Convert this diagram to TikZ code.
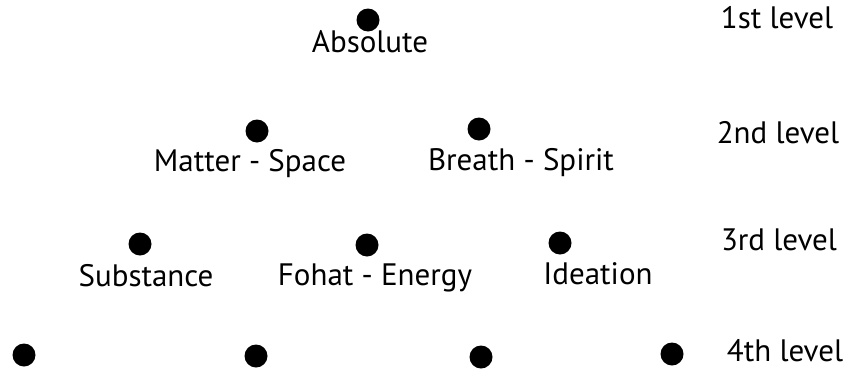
\documentclass[tikz,border=0pt]{standalone}
\usepackage{fontspec}
\setmainfont{PT Sans}
\tikzset{
  dot/.style={circle,fill=black,inner sep=0pt,minimum size=23pt},
  lbl/.style={anchor=base,inner sep=0pt,font=\fontsize{31}{34}\selectfont}
}
\begin{document}
\begin{tikzpicture}[x=1pt,y=-1pt]
      \useasboundingbox (0,0) rectangle (846,370);
      % dots
      \draw
        (368,20) node[dot] (a){}
        (257,131) node[dot] (m){}
        (479,129) node[dot] (b){}
        (140,244) node[dot] (s){}
        (367,245) node[dot] (f){}
        (560,243) node[dot] (i){}
        (24,355) node[dot] (d1){}
        (256,356) node[dot] (d2){}
        (481,357) node[dot] (d3){}
        (672,354) node[dot] (d4){};
      % names
      \draw
        (370,52) node[lbl] (absolute){Absolute}
        (250,171) node[lbl] (matter){Matter - Space}
        (521,170) node[lbl] (breath){Breath - Spirit}
        (146,286) node[lbl] (substance){Substance}
        (375,285) node[lbl] (fohat){Fohat - Energy}
        (598,284) node[lbl] (ideation){Ideation};
      % levels
      \draw
        (777,28) node[lbl] (l1){1st level}
        (778,143) node[lbl] (l2){2nd level}
        (779,250) node[lbl] (l3){3rd level}
        (785,361) node[lbl] (l4){4th level};
    \end{tikzpicture}
\end{document}
